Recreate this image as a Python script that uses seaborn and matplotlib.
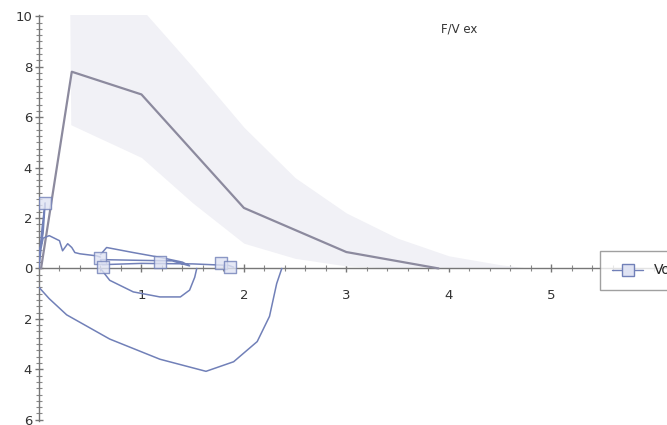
import matplotlib
matplotlib.use("Agg")
import matplotlib.pyplot as plt
import seaborn as sns
import numpy as np
import pandas as pd
from matplotlib.ticker import MultipleLocator, FuncFormatter
from matplotlib.lines import Line2D

# ---- data ----
pred_vol = [0.02, 0.32, 1.0, 2.0, 3.0, 3.9]
pred_flow = [0.0, 7.8, 6.9, 2.4, 0.65, 0.0]

band_vol = [0.3, 0.31, 1.0, 1.5, 2.0, 2.5, 3.0, 3.5, 4.0, 4.5, 4.8]
band_upper = [10.5, 10.5, 10.3, 8.0, 5.6, 3.6, 2.2, 1.2, 0.5, 0.15, 0.0]
band_lower = [10.5, 5.7, 4.4, 2.6, 1.0, 0.4, 0.1, 0.0, 0.0, 0.0, 0.0]

spike_vol = [0.0, 0.03, 0.06, 0.04, 0.0]
spike_flow = [0.3, 1.6, 2.6, 1.4, 0.5]

exp_vol = [0.0, 0.02, 0.04, 0.1, 0.2, 0.23, 0.28, 0.32, 0.35, 0.4, 0.56, 0.6]
exp_flow = [0.0, 0.8, 1.2, 1.3, 1.1, 0.7, 0.98, 0.83, 0.63, 0.58, 0.5, 0.45]

loop_vol = [0.6, 0.66, 0.92, 1.18, 1.4, 1.47, 1.3, 1.0, 0.6, 0.62, 1.0, 1.5, 1.85, 1.9]
loop_flow = [0.55, 0.83, 0.63, 0.44, 0.25, 0.1, 0.3, 0.32, 0.35, 0.15, 0.2, 0.18, 0.12, 0.05]

insp_big_vol = [0.0, 0.1, 0.27, 0.69, 1.18, 1.63, 1.9, 2.13, 2.25, 2.32, 2.37]
insp_big_flow = [-0.75, -1.2, -1.84, -2.8, -3.6, -4.08, -3.7, -2.9, -1.9, -0.6, 0.0]

insp_small_vol = [0.6, 0.69, 0.92, 1.18, 1.38, 1.47, 1.52, 1.54]
insp_small_flow = [0.0, -0.47, -0.93, -1.13, -1.13, -0.86, -0.35, 0.0]

marker_vol = [0.06, 0.6, 0.62, 1.18, 1.78, 1.86]
marker_flow = [2.6, 0.4, 0.05, 0.25, 0.2, 0.05]

x_ticks = [1, 2, 3, 4, 5]
y_ticks = [-6, -4, -2, 0, 2, 4, 6, 8, 10]
title_text = "F/V ex"
legend_label = "Vorher"

# ---- style ----
sns.set_theme(style="white")
plt.rcParams['font.family'] = ['DejaVu Sans']

blue = "#7180b8"
gray_line = "#8c8a9e"
band_col = "#f1f1f6"

fig = plt.figure(figsize=(6.67, 4.25), dpi=100)
ax = fig.add_axes([39/667, 4/425, (667-39)/667, 406/425])

ax.fill_between(band_vol, band_lower, band_upper, color=band_col, lw=0, zorder=1)

sns.lineplot(x=pred_vol, y=pred_flow, sort=False, estimator=None, color=gray_line,
             lw=1.6, ax=ax, zorder=3)

for xs, ys in [(spike_vol, spike_flow), (exp_vol, exp_flow), (loop_vol, loop_flow),
               (insp_big_vol, insp_big_flow), (insp_small_vol, insp_small_flow)]:
    sns.lineplot(x=xs, y=ys, sort=False, estimator=None, color=blue, lw=1.1, ax=ax, zorder=4)

sns.scatterplot(x=marker_vol, y=marker_flow, marker="s", s=70, facecolor="#dfe3f3",
                edgecolor=blue, linewidth=1.0, alpha=0.8, ax=ax, zorder=5)

ax.set_xlim(0, 6.13)
ax.set_ylim(-6.05, 10.05)

for s in ["top", "right"]:
    ax.spines[s].set_visible(False)
ax.spines["left"].set_position(("data", 0))
ax.spines["bottom"].set_position(("data", 0))
for s in ["left", "bottom"]:
    ax.spines[s].set_color("#777777")
    ax.spines[s].set_linewidth(1.0)

ax.set_xticks(x_ticks)
ax.set_yticks(y_ticks)
ax.xaxis.set_minor_locator(MultipleLocator(0.2))
ax.yaxis.set_minor_locator(MultipleLocator(0.25))
ax.yaxis.set_major_formatter(FuncFormatter(lambda v, p: f"{abs(int(round(v)))}"))
ax.tick_params(axis="both", which="major", direction="inout", length=6, width=1,
               color="#777777", labelsize=9.5, labelcolor="#333333", pad=2)
ax.tick_params(axis="both", which="minor", direction="inout", length=4, width=0.8,
               color="#888888")
ax.tick_params(axis="x", which="major", pad=12)
ax.tick_params(left=True, bottom=True, which="both")
ax.set_xlabel("")
ax.set_ylabel("")

ax.text(4.1, 9.5, title_text, fontsize=8.5, color="#333333", ha="center", va="center")

handle = Line2D([0], [0], color=blue, lw=1, marker="s", markersize=8,
                markerfacecolor="#dfe3f3", markeredgecolor=blue)
leg = fig.legend([handle], [legend_label], loc="upper left",
                 bbox_to_anchor=(593/667, 1 - 244/425), frameon=True, fontsize=10,
                 handlelength=2.2, borderpad=0.9, fancybox=False, edgecolor="#888888")
leg.get_frame().set_linewidth(1.0)

fig.savefig("out.png", dpi=100)
